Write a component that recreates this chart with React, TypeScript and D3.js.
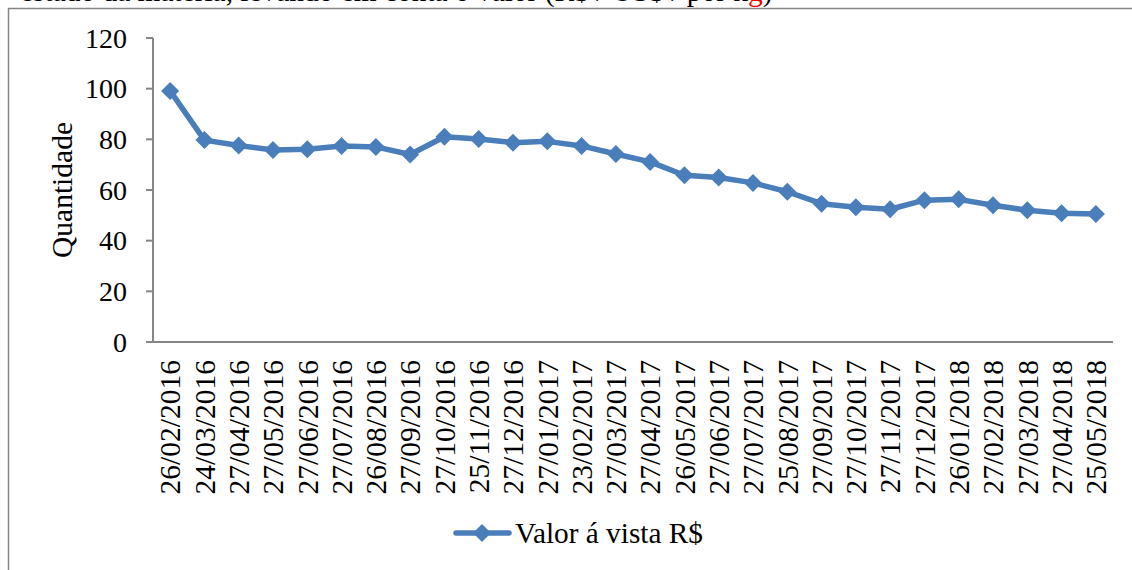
import React from "react";
import * as d3 from "d3";

const categories = [
  "26/02/2016","24/03/2016","27/04/2016","27/05/2016","27/06/2016","27/07/2016","26/08/2016",
  "27/09/2016","27/10/2016","25/11/2016","27/12/2016","27/01/2017","23/02/2017","27/03/2017",
  "27/04/2017","26/05/2017","27/06/2017","27/07/2017","25/08/2017","27/09/2017","27/10/2017",
  "27/11/2017","27/12/2017","26/01/2018","27/02/2018","27/03/2018","27/04/2018","25/05/2018",
];
const values = [
  99.1, 79.7, 77.6, 75.8, 76.1, 77.4, 77.0, 74.0, 81.0, 80.1, 78.7, 79.2, 77.4, 74.2,
  71.1, 65.8, 64.9, 62.8, 59.3, 54.6, 53.2, 52.4, 56.0, 56.3, 54.0, 52.0, 50.8, 50.5,
];
const yTicks = [0, 20, 40, 60, 80, 100, 120];
const seriesName = "Valor á vista R$";
const yTitle = "Quantidade";

const W = 1132, H = 570;
const FONT = "'Liberation Serif', 'Times New Roman', serif";
const BLUE = "#4a7ebb";
const GRAY = "#868686";

export default function App() {
  const left = 153, right = 1113, top = 38, bottom = 342;
  const x = d3.scaleBand<string>().domain(categories).range([left, right]);
  const y = d3.scaleLinear().domain([0, 120]).range([bottom, top]);
  const cx = (c: string) => (x(c) as number) + x.bandwidth() / 2;
  const line = d3.line<number>().x((_, i) => cx(categories[i])).y((v) => y(v));
  const diamond = (s: number) => `M0,${-s}L${s},0L0,${s}L${-s},0Z`;

  return (
    <svg width={W} height={H} style={{ position: "absolute", left: 0, top: 0, background: "#fff" }} fontFamily={FONT}>
      <rect x={0} y={0} width={W} height={H} fill="#fff" />
      <text x={20} y={1} fontSize={29.4} fill="#000">
        estado da matéria, levando em conta o valor (R$ / US$ / por k<tspan fill="#e00">g</tspan>)
      </text>
      <rect x={8.5} y={8.5} width={W + 20} height={H + 20} fill="none" stroke={GRAY} strokeWidth={1.5} />

      {/* y axis */}
      <line x1={left} x2={left} y1={top} y2={bottom} stroke={GRAY} strokeWidth={2} />
      {yTicks.map((t) => (
        <g key={t}>
          <line x1={left - 7} x2={left} y1={y(t)} y2={y(t)} stroke={GRAY} strokeWidth={2} />
          <text x={127} y={y(t)} dy="0.35em" textAnchor="end" fontSize={28} fill="#000">{t}</text>
        </g>
      ))}
      {/* x axis */}
      <line x1={left - 7} x2={right} y1={bottom} y2={bottom} stroke={GRAY} strokeWidth={2} />
      {categories.map((c) => (
        <text key={c} transform={`translate(${cx(c)},360) rotate(-90)`} dy="0.35em" textAnchor="end" fontSize={29.5} fill="#000">{c}</text>
      ))}
      <text transform={`translate(62,${(top + bottom) / 2}) rotate(-90)`} dy="0.35em" textAnchor="middle" fontSize={29.5} fill="#000">{yTitle}</text>

      {/* series */}
      <path d={line(values) || ""} fill="none" stroke={BLUE} strokeWidth={5.5} strokeLinejoin="round" strokeLinecap="round" />
      {values.map((v, i) => (
        <path key={i} d={diamond(9)} transform={`translate(${cx(categories[i])},${y(v)})`} fill={BLUE} />
      ))}

      {/* legend */}
      <line x1={456} x2={509} y1={533} y2={533} stroke={BLUE} strokeWidth={5.5} strokeLinecap="round" />
      <path d={diamond(9)} transform="translate(482,533)" fill={BLUE} />
      <text x={515} y={533} dy="0.35em" fontSize={29.3} fill="#000">{seriesName}</text>
    </svg>
  );
}
